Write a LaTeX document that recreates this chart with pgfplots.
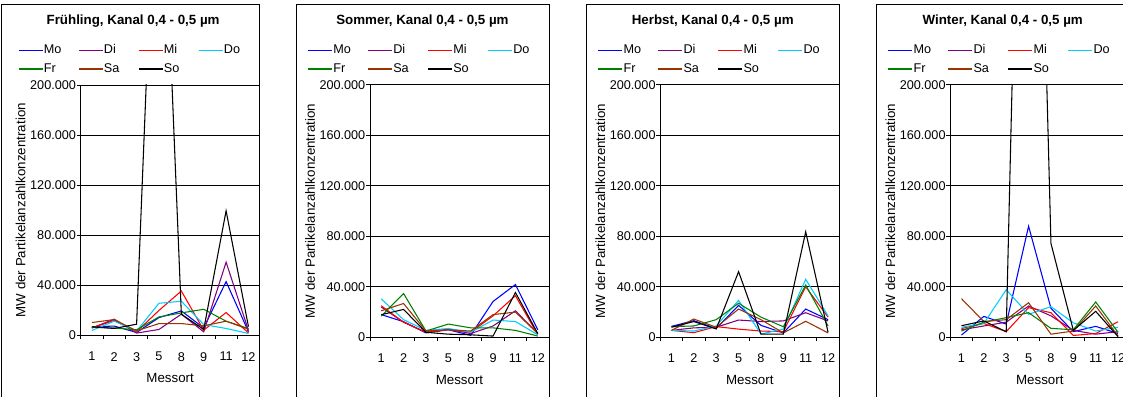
\documentclass[border=0pt]{standalone}
\usepackage{fontspec}
\setmainfont{Liberation Sans}
\usepackage{pgfplots}
\usepackage{pgfplotstable}
\pgfplotsset{compat=1.18}

\definecolor{cMo}{RGB}{0,0,255}
\definecolor{cDi}{RGB}{128,0,128}
\definecolor{cMi}{RGB}{255,0,0}
\definecolor{cDo}{RGB}{0,204,255}
\definecolor{cFr}{RGB}{0,128,0}
\definecolor{cSa}{RGB}{153,51,0}
\definecolor{cSo}{RGB}{0,0,0}

% x: 0..7 = Messort 1,2,3,5,8,9,11,12
\pgfplotstableread{
x Mo Di Mi Do Fr Sa So
0 6900 6000 6000 4000 6500 10300 6900
1 7500 13000 12000 11400 6000 12700 5600
2 2400 1900 3000 3500 4500 3700 9000
3 14300 4800 20000 25700 14800 9500 455000
4 19600 17000 35500 27300 18000 9500 17000
5 6000 2900 4200 8700 20900 7700 4800
6 43000 58500 18300 5600 11400 11400 99500
7 3000 4000 2000 1600 5500 5000 7000
}\fruehling

\pgfplotstableread{
x Mo Di Mi Do Fr Sa So
0 18000 24000 25000 30500 16800 21000 17900
1 12400 12000 12000 14000 34700 26800 22100
2 3500 4000 4000 5500 5000 5000 4000
3 6000 6500 6000 7000 10500 6000 2500
4 1600 3000 4000 4000 7500 5000 2000
5 28400 9000 17000 13700 7500 18000 1000
6 41800 21000 33000 12500 5500 20000 35500
7 6000 3000 2000 2000 1000 3000 3000
}\sommer

\pgfplotstableread{
x Mo Di Mi Do Fr Sa So
0 8700 5500 5500 5500 8500 5500 8000
1 13200 7500 3700 5000 9000 14500 12500
2 7000 8000 8500 9000 14000 8000 6600
3 25300 13700 6500 29300 27000 22400 52000
4 9500 12500 5000 2600 16000 14000 2500
5 3500 13000 4500 6500 8400 3500 2500
6 22400 19500 40000 46000 41400 12700 83600
7 14000 13000 16000 17000 9000 3500 4000
}\herbst

\pgfplotstableread{
x Mo Di Mi Do Fr Sa So
0 1800 6000 7000 8000 5000 30600 9200
1 16600 9000 11000 11000 12000 12500 13000
2 10500 12000 4500 37700 15600 14000 4400
3 88000 24800 23500 18200 19500 27400 750000
4 23000 17000 19500 24300 7100 2500 74400
5 4500 5500 1500 11500 6000 5000 5500
6 8700 2500 3000 5000 28000 24800 20600
7 3000 4500 12400 8000 4000 1000 500
}\winter

\pgfplotsset{
  panel/.style={
    scale only axis, width=134.25pt, anchor=south west,
    xmin=-0.5, xmax=7.5, ymin=0, ymax=200000,
    xtick={-0.5,0.5,...,7.5}, x tick label as interval,
    xticklabels={1,2,3,5,8,9,11,12},
    ytick={0,40000,80000,120000,160000,200000},
    yticklabels={0,40.000,80.000,120.000,160.000,200.000},
    scaled y ticks=false,
    axis lines*=left,
    axis line style={black, line width=0.6pt},
    ymajorgrids, grid style={black, line width=0.6pt},
    tick align=outside, major tick length=3pt,
    tick style={black, line width=0.6pt},
    tick label style={font=\fontsize{9.5}{11}\selectfont},
    xticklabel style={yshift=-6pt},
    yticklabel style={xshift=3pt},
    xlabel={Messort}, ylabel={MW der Partikelanzahlkonzentration},
    xlabel style={at={(axis description cs:0.5,0)}, anchor=center, yshift=-32pt, font=\fontsize{10}{12}\selectfont},
    ylabel style={at={(axis description cs:-0.335,0.5)}, anchor=center, font=\fontsize{10}{12}\selectfont},
    title style={at={(axis description cs:0.293,1.209)}, anchor=base, font=\fontsize{10}{12}\selectfont\bfseries},
    legend columns=4,
    legend image code/.code={\draw[##1, line width=1pt] (0pt,0pt) -- (18pt,0pt);},
    legend style={draw=none, fill=none, at={(-0.352,1.164)}, anchor=north west,
      font=\fontsize{9.5}{11}\selectfont, inner sep=0pt, row sep=4pt,
      nodes={inner sep=0.5pt, text height=7pt, text depth=2pt},
      /tikz/every even column/.append style={text width=25pt}},
    every axis plot/.append style={line width=0.8pt, mark=none},
  }
}

\begin{document}
\begin{tikzpicture}
\useasboundingbox (0,0) rectangle (842.25pt,297pt);
\clip (0,0) rectangle (842.25pt,297pt);

\draw[line width=0.75pt] (0.75pt,-10pt) rectangle (194.8pt,293.25pt);
\draw[line width=0.75pt] (222pt,-10pt) rectangle (411.75pt,293.25pt);
\draw[line width=0.75pt] (439.5pt,-10pt) rectangle (629.5pt,293.25pt);
\draw[line width=0.75pt] (657pt,-10pt) rectangle (847pt,293.25pt);

\begin{axis}[panel, at={(60.5pt,45.4pt)}, height=187.9pt,
  legend style={at={(-0.352,1.1658)}},
  title={Frühling, Kanal 0,4 - 0,5 µm}]
\addplot[cMo] table[x=x,y=Mo]{\fruehling};
\addplot[cDi] table[x=x,y=Di]{\fruehling};
\addplot[cMi] table[x=x,y=Mi]{\fruehling};
\addplot[cDo] table[x=x,y=Do]{\fruehling};
\addplot[cFr] table[x=x,y=Fr]{\fruehling};
\addplot[cSa] table[x=x,y=Sa]{\fruehling};
\addplot[cSo] table[x=x,y=So]{\fruehling};
\legend{Mo,Di,Mi,Do,Fr,Sa,So}
\end{axis}

\begin{axis}[panel, at={(277.5pt,44pt)}, height=189.4pt,
  title={Sommer, Kanal 0,4 - 0,5 µm}]
\addplot[cMo] table[x=x,y=Mo]{\sommer};
\addplot[cDi] table[x=x,y=Di]{\sommer};
\addplot[cMi] table[x=x,y=Mi]{\sommer};
\addplot[cDo] table[x=x,y=Do]{\sommer};
\addplot[cFr] table[x=x,y=Fr]{\sommer};
\addplot[cSa] table[x=x,y=Sa]{\sommer};
\addplot[cSo] table[x=x,y=So]{\sommer};
\legend{Mo,Di,Mi,Do,Fr,Sa,So}
\end{axis}

\begin{axis}[panel, at={(495.2pt,44pt)}, height=189.4pt,
  title={Herbst, Kanal 0,4 - 0,5 µm}]
\addplot[cMo] table[x=x,y=Mo]{\herbst};
\addplot[cDi] table[x=x,y=Di]{\herbst};
\addplot[cMi] table[x=x,y=Mi]{\herbst};
\addplot[cDo] table[x=x,y=Do]{\herbst};
\addplot[cFr] table[x=x,y=Fr]{\herbst};
\addplot[cSa] table[x=x,y=Sa]{\herbst};
\addplot[cSo] table[x=x,y=So]{\herbst};
\legend{Mo,Di,Mi,Do,Fr,Sa,So}
\end{axis}

\begin{axis}[panel, at={(712.7pt,44pt)}, height=189.4pt,
  title={Winter, Kanal 0,4 - 0,5 µm}]
\addplot[cMo] table[x=x,y=Mo]{\winter};
\addplot[cDi] table[x=x,y=Di]{\winter};
\addplot[cMi] table[x=x,y=Mi]{\winter};
\addplot[cDo] table[x=x,y=Do]{\winter};
\addplot[cFr] table[x=x,y=Fr]{\winter};
\addplot[cSa] table[x=x,y=Sa]{\winter};
\addplot[cSo] table[x=x,y=So]{\winter};
\legend{Mo,Di,Mi,Do,Fr,Sa,So}
\end{axis}
\end{tikzpicture}
\end{document}
